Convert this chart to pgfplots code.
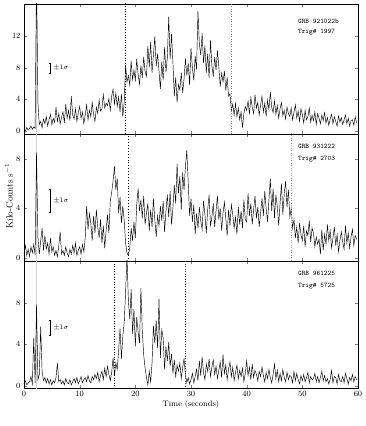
\documentclass[border=0pt]{standalone}
\usepackage{pgfplots}
\usepackage{pgfplotstable}
\pgfplotsset{compat=1.18}

\pgfplotstableread[row sep=\\]{
y\\
0.2\\ 0.0\\ 0.4\\ 0.1\\
0.3\\ 0.6\\ 0.2\\ 0.5\\
0.3\\ 20\\ 3.5\\ 0.8\\
1.2\\ 0.4\\ 1.5\\ 0.9\\
1.8\\ 0.6\\ 1.4\\ 2.1\\
0.8\\ 1.6\\ 1.1\\ 3.0\\
1.2\\ 2.2\\ 0.9\\ 1.7\\
2.4\\ 1.0\\ 3.4\\ 1.6\\
2.6\\ 1.3\\ 4.4\\ 2.0\\
1.5\\ 2.8\\ 1.2\\ 2.3\\
3.1\\ 1.6\\ 2.4\\ 0.9\\
2.0\\ 3.3\\ 1.4\\ 2.6\\
1.8\\ 3.6\\ 2.1\\ 1.2\\
3.0\\ 2.2\\ 3.9\\ 2.5\\
2.8\\ 4.6\\ 2.9\\ 3.5\\
3.2\\ 4.1\\ 2.6\\ 4.4\\
5.3\\ 3.4\\ 4.8\\ 3.1\\
4.3\\ 2.4\\ 4.7\\ 1.8\\
3.6\\ 8.4\\ 6.2\\ 7.0\\
5.8\\ 8.9\\ 6.5\\ 7.7\\
6.4\\ 9.1\\ 7.2\\ 5.9\\
8.3\\ 6.7\\ 9.4\\ 7.5\\
6.9\\ 10.8\\ 8.1\\ 11.3\\
7.4\\ 9.6\\ 12.0\\ 8.2\\
9.8\\ 7.6\\ 5.3\\ 8.8\\
6.4\\ 10.6\\ 7.5\\ 9.3\\
14.5\\ 9.1\\ 12.3\\ 8.7\\
4.4\\ 6.8\\ 3.6\\ 5.9\\
5.2\\ 7.4\\ 4.8\\ 6.6\\
9.2\\ 7.0\\ 8.6\\ 5.8\\
10.5\\ 8.0\\ 6.4\\ 9.5\\
7.8\\ 15.2\\ 11.0\\ 9.6\\
12.4\\ 8.6\\ 10.8\\ 7.4\\
9.8\\ 6.7\\ 11.5\\ 8.3\\
6.9\\ 9.4\\ 7.7\\ 10.2\\
8.1\\ 5.6\\ 7.3\\ 6.2\\
7.6\\ 5.1\\ 6.8\\ 4.4\\
4.7\\ 2.6\\ 3.4\\ 2.0\\
3.5\\ 1.8\\ 2.9\\ 1.4\\
2.4\\ 0.4\\ 2.2\\ 3.1\\
2.6\\ 3.8\\ 2.1\\ 4.2\\
3.0\\ 2.2\\ 4.6\\ 2.9\\
3.6\\ 2.0\\ 3.2\\ 4.4\\
2.4\\ 3.5\\ 1.8\\ 3.9\\
2.7\\ 4.9\\ 3.0\\ 2.3\\
3.8\\ 2.1\\ 3.2\\ 1.6\\
2.8\\ 3.6\\ 1.9\\ 2.6\\
1.5\\ 3.0\\ 2.2\\ 1.8\\
2.9\\ 1.4\\ 2.4\\ 3.3\\
1.6\\ 2.5\\ 1.2\\ 2.8\\
2.1\\ 1.0\\ 2.6\\ 1.4\\
1.8\\ 2.9\\ 1.1\\ 2.0\\
1.3\\ 2.4\\ 0.8\\ 2.2\\
1.6\\ 0.9\\ 2.0\\ 1.3\\
2.3\\ 1.0\\ 1.7\\ 0.7\\
1.5\\ 2.1\\ 0.9\\ 1.8\\
1.2\\ 0.6\\ 1.9\\ 1.1\\
1.7\\ 0.8\\ 1.4\\ 2.0\\
0.9\\ 1.6\\ 0.6\\ 1.3\\
1.4\\ 0.7\\ 1.8\\ 1.0\\
}\dataA

\pgfplotstableread[row sep=\\]{
y\\
0.3\\ 1.0\\ 0.2\\ 0.7\\
0.1\\ 0.9\\ 0.4\\ 1.1\\
0.2\\ 8.5\\ 1.6\\ 0.3\\
1.4\\ 2.4\\ 0.6\\ 1.8\\
0.7\\ 1.2\\ 0.3\\ 1.6\\
0.5\\ 0.9\\ 0.2\\ 0.6\\
0.1\\ 1.0\\ 2.1\\ 0.3\\
0.6\\ 0.2\\ 0.9\\ 0.4\\
0.1\\ 0.7\\ 0.3\\ 1.0\\
0.4\\ 1.2\\ 0.2\\ 0.6\\
0.9\\ 0.3\\ 1.1\\ 0.5\\
1.6\\ 4.2\\ 2.3\\ 3.6\\
2.8\\ 1.4\\ 3.4\\ 2.0\\
3.9\\ 2.5\\ 1.6\\ 3.1\\
1.2\\ 2.6\\ 0.8\\ 2.2\\
3.5\\ 2.0\\ 4.6\\ 5.3\\
6.2\\ 7.4\\ 5.5\\ 6.4\\
3.6\\ 4.9\\ 2.8\\ 4.2\\
3.0\\ 1.2\\ 0.4\\ 0.2\\
0.8\\ 2.4\\ 1.4\\ 2.9\\
1.6\\ 4.3\\ 5.6\\ 3.8\\
4.7\\ 3.2\\ 5.0\\ 2.7\\
3.6\\ 4.4\\ 2.2\\ 3.9\\
2.5\\ 4.8\\ 3.1\\ 1.7\\
3.4\\ 2.6\\ 4.2\\ 3.0\\
4.6\\ 2.1\\ 3.8\\ 5.1\\
3.3\\ 5.4\\ 2.7\\ 4.0\\
5.9\\ 4.4\\ 7.6\\ 5.2\\
6.6\\ 3.9\\ 6.9\\ 5.5\\
7.4\\ 8.7\\ 6.1\\ 3.4\\
4.8\\ 2.9\\ 4.3\\ 1.9\\
3.6\\ 2.4\\ 4.1\\ 3.0\\
2.3\\ 4.6\\ 3.5\\ 2.0\\
3.9\\ 5.1\\ 2.6\\ 3.3\\
4.4\\ 2.5\\ 3.8\\ 5.0\\
3.1\\ 4.0\\ 2.2\\ 3.6\\
4.5\\ 3.2\\ 1.8\\ 3.9\\
2.6\\ 4.3\\ 3.5\\ 2.4\\
3.3\\ 1.9\\ 4.1\\ 2.7\\
3.8\\ 2.4\\ 4.7\\ 3.1\\
2.9\\ 5.2\\ 3.4\\ 4.4\\
2.7\\ 3.9\\ 5.0\\ 3.2\\
4.1\\ 2.5\\ 3.6\\ 4.8\\
3.4\\ 5.4\\ 4.0\\ 2.9\\
4.7\\ 6.4\\ 3.8\\ 5.6\\
3.2\\ 5.1\\ 4.2\\ 2.6\\
4.4\\ 6.0\\ 3.5\\ 5.2\\
6.2\\ 4.1\\ 5.5\\ 3.3\\
4.0\\ 2.4\\ 3.1\\ 1.6\\
2.5\\ 1.2\\ 2.8\\ 1.9\\
1.4\\ 2.6\\ 0.9\\ 2.2\\
1.8\\ 3.0\\ 1.3\\ 2.4\\
2.0\\ 0.9\\ 1.7\\ 1.1\\
1.5\\ 0.3\\ 2.3\\ 0.6\\
1.9\\ 1.1\\ 2.7\\ 1.4\\
2.2\\ 0.8\\ 1.6\\ 2.5\\
1.0\\ 1.9\\ 0.5\\ 1.4\\
2.1\\ 1.3\\ 0.7\\ 2.6\\
1.2\\ 2.0\\ 0.8\\ 1.7\\
2.3\\ 1.0\\ 1.8\\ 1.5\\
}\dataB

\pgfplotstableread[row sep=\\]{
y\\
0.2\\ 0.5\\ 0.1\\ 0.3\\
0.4\\ 0.9\\ 0.2\\ 4.6\\
0.3\\ 7.8\\ 0.6\\ 1.1\\
5.7\\ 1.4\\ 0.5\\ 0.8\\
0.3\\ 0.7\\ 0.2\\ 0.6\\
0.1\\ 0.5\\ 0.3\\ 0.8\\
2.2\\ 0.4\\ 0.6\\ 0.2\\
0.5\\ 0.1\\ 0.7\\ 0.3\\
0.2\\ 0.6\\ 0.1\\ 0.4\\
0.7\\ 0.3\\ 0.8\\ 0.2\\
0.5\\ 0.9\\ 0.3\\ 0.6\\
0.8\\ 0.4\\ 1.0\\ 0.5\\
0.3\\ 0.9\\ 0.6\\ 1.1\\
0.7\\ 1.3\\ 0.4\\ 1.0\\
1.4\\ 0.6\\ 1.7\\ 0.9\\
1.9\\ 1.1\\ 0.5\\ 1.3\\
2.7\\ 1.0\\ 2.2\\ 1.6\\
3.4\\ 5.5\\ 2.6\\ 4.8\\
6.1\\ 9.0\\ 12.5\\ 8.2\\
6.4\\ 9.3\\ 5.0\\ 7.4\\
3.8\\ 6.6\\ 5.2\\ 4.1\\
9.4\\ 5.3\\ 3.0\\ 1.7\\
0.8\\ 0.1\\ 1.4\\ 0.4\\
2.2\\ 5.8\\ 4.1\\ 6.3\\
3.6\\ 8.4\\ 2.7\\ 5.4\\
4.6\\ 1.6\\ 3.8\\ 2.4\\
4.2\\ 1.9\\ 3.1\\ 1.2\\
2.5\\ 0.9\\ 2.0\\ 1.4\\
2.2\\ 0.7\\ 1.8\\ 2.6\\
1.1\\ 0.3\\ 0.8\\ 0.2\\
0.6\\ 1.2\\ 0.3\\ 0.9\\
1.6\\ 0.5\\ 2.4\\ 1.0\\
2.8\\ 1.3\\ 0.6\\ 2.1\\
1.4\\ 2.6\\ 0.9\\ 1.8\\
2.5\\ 1.1\\ 1.9\\ 0.7\\
1.5\\ 2.3\\ 0.8\\ 3.0\\
1.2\\ 2.0\\ 0.6\\ 1.6\\
2.3\\ 0.9\\ 1.8\\ 0.5\\
1.3\\ 2.0\\ 0.7\\ 1.5\\
0.9\\ 1.7\\ 0.4\\ 1.2\\
2.4\\ 1.0\\ 1.8\\ 0.6\\
2.1\\ 0.8\\ 1.5\\ 1.1\\
0.5\\ 1.4\\ 0.9\\ 1.8\\
1.0\\ 0.4\\ 1.3\\ 0.7\\
1.6\\ 0.8\\ 0.3\\ 1.1\\
2.1\\ 0.7\\ 1.5\\ 0.4\\
1.2\\ 0.5\\ 1.6\\ 0.8\\
0.4\\ 1.3\\ 0.6\\ 1.0\\
0.9\\ 0.3\\ 1.4\\ 0.5\\
1.2\\ 0.6\\ 0.2\\ 1.0\\
0.5\\ 1.1\\ 0.4\\ 0.8\\
1.3\\ 0.3\\ 0.9\\ 0.6\\
0.7\\ 1.2\\ 0.4\\ 0.9\\
0.3\\ 0.8\\ 1.4\\ 0.5\\
1.0\\ 0.4\\ 0.7\\ 0.2\\
0.6\\ 1.5\\ 0.3\\ 0.9\\
0.8\\ 0.2\\ 1.1\\ 0.5\\
0.4\\ 0.9\\ 0.3\\ 1.2\\
0.7\\ 0.2\\ 0.8\\ 0.5\\
1.1\\ 0.4\\ 0.9\\ 0.6\\
}\dataC

\pgfplotsset{
  panel/.style={
    scale only axis, width=334bp,
    xmin=0, xmax=60, xtick={0,10,...,60},
    tick label style={font=\footnotesize},
    major tick length=3bp,
    axis line style={line width=0.6pt},
    anchor=south west,
  },
  curve/.style={black, line width=0.45pt, mark=none},
}
% sigma bar: x position, centre, half length (axis units)
\newcommand{\sigbar}[3]{%
  \draw[line width=0.4pt] (axis cs:#1,#2-#3) -- (axis cs:#1,#2+#3);
  \draw[line width=0.4pt] ([xshift=-1.3bp]axis cs:#1,#2-#3) -- ([xshift=1.3bp]axis cs:#1,#2-#3);
  \draw[line width=0.4pt] ([xshift=-1.3bp]axis cs:#1,#2+#3) -- ([xshift=1.3bp]axis cs:#1,#2+#3);
  \node[anchor=west, font=\scriptsize, inner sep=1bp] at ([xshift=2bp]axis cs:#1,#2) {$\pm1\sigma$};
}

\begin{document}
\begin{tikzpicture}
\path[use as bounding box] (-24bp,-38bp) rectangle (342bp,388bp);

% top panel
\begin{axis}[panel, at={(0bp,254bp)}, height=130bp,
  ymin=-0.4, ymax=16.1, ytick={0,4,8,12}, xticklabels={}]
\addplot[gray!35, line width=0.4pt] coordinates {(2.2,-1) (2.2,20)};
\addplot[curve] table[x expr=\coordindex*0.25, y=y] {\dataA};
\addplot[black, dotted, line width=0.6pt] coordinates {(18.2,-1) (18.2,20)};
\addplot[gray, dotted, line width=0.5pt] coordinates {(37.3,-1) (37.3,20)};
\sigbar{4.7}{8}{0.64}
\node[anchor=west, font=\scriptsize\ttfamily] at (rel axis cs:0.81,0.87) {GRB 921022b};
\node[anchor=west, font=\scriptsize\ttfamily] at (rel axis cs:0.81,0.78) {Trig\# 1997};
\end{axis}

% middle panel
\begin{axis}[panel, at={(0bp,127bp)}, height=127bp,
  ymin=-0.25, ymax=10, ytick={0,4,8}, xticklabels={}]
\addplot[gray!35, line width=0.4pt] coordinates {(2.2,-1) (2.2,20)};
\addplot[curve] table[x expr=\coordindex*0.25, y=y] {\dataB};
\addplot[black, dotted, line width=0.9pt] coordinates {(18.8,-1) (18.8,20)};
\addplot[gray!70, dotted, line width=0.5pt] coordinates {(48.0,-1) (48.0,20)};
\sigbar{4.7}{4.6}{0.95}
\node[anchor=west, font=\scriptsize\ttfamily] at (rel axis cs:0.81,0.90) {GRB 931222};
\node[anchor=west, font=\scriptsize\ttfamily] at (rel axis cs:0.81,0.80) {Trig\# 2703};
\end{axis}

% bottom panel
\begin{axis}[panel, at={(0bp,0bp)}, height=127bp,
  ymin=-0.2, ymax=12, ytick={0,4,8},
  xlabel={Time (seconds)}, xlabel style={font=\footnotesize, yshift=3bp}]
\addplot[gray!35, line width=0.4pt] coordinates {(2.2,-1) (2.2,20)};
\addplot[curve] table[x expr=\coordindex*0.25, y=y] {\dataC};
\addplot[black, dotted, line width=0.6pt] coordinates {(16.2,-1) (16.2,20)};
\addplot[black!80, dotted, line width=0.5pt] coordinates {(29.0,-1) (29.0,20)};
\sigbar{4.7}{5.6}{0.72}
\node[anchor=west, font=\scriptsize\ttfamily] at (rel axis cs:0.81,0.90) {GRB 961225};
\node[anchor=west, font=\scriptsize\ttfamily] at (rel axis cs:0.81,0.80) {Trig\# 5725};
\end{axis}

\node[rotate=90, font=\small] at (-15bp,192bp) {Kilo-Counts s$^{-1}$};
\end{tikzpicture}
\end{document}
